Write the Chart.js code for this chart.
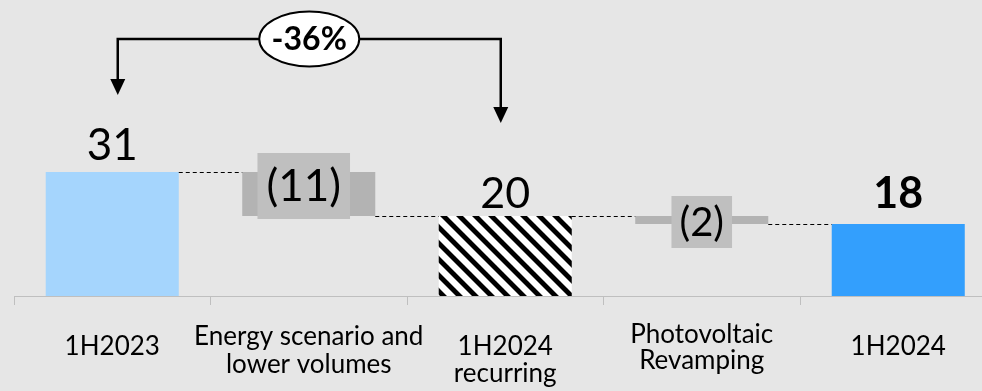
<!DOCTYPE html>
<html>
<head>
<meta charset="utf-8">
<script src="https://cdn.jsdelivr.net/npm/chart.js@4.4.1/dist/chart.umd.min.js"></script>
<style>
  html, body { margin: 0; padding: 0; background: #e6e6e6; overflow: hidden; }
  #wrap { width: 1000px; height: 391px; }
</style>
</head>
<body>
<div id="wrap"><canvas id="c" width="1000" height="391"></canvas></div>
<script>
// ---- data ----
const categories = [
  ['1H2023'],
  ['Energy scenario and', 'lower volumes'],
  ['1H2024', 'recurring'],
  ['Photovoltaic', 'Revamping'],
  ['1H2024']
];
const values = [31, -11, 20, -2, 18];
const isTotal = [true, false, true, false, true];
const valueLabels = ['31', '(11)', '20', '(2)', '18'];
const changeLabel = '-36%';
const changeFrom = 0;
const changeTo = 2;

// ---- styles ----
const FONT = 'Lato, "Open Sans", sans-serif';
const AXIS_COLOR = '#bfbfbf';
const GREY = '#b3b3b3';
const BOX_GREY = '#bfbfbf';

const valueStyle = [
  { size: 44, bold: false, gap: 12 },
  { size: 44, bold: false, box: true, padX: 9, top: 19, h: 66, dx: -5 },
  { size: 43, bold: false, gap: 8 },
  { size: 40, bold: false, box: true, padX: 8, top: 20, h: 52, dx: 0 },
  { size: 43, bold: true, gap: 16 }
];
const catStyle = [
  { first: 59, step: 28 },
  { first: 49, step: 28 },
  { first: 59, step: 27 },
  { first: 47, step: 26 },
  { first: 59, step: 28 }
];
const bracket = { y: 39, leftDx: 5.5, rightDx: -4.5, leftGap: 77, rightGap: 93,
                  headW: 15, headH: 16, rx: 50, ry: 27.5, size: 32 };

// floating ranges for the waterfall
const ranges = [];
const levels = [];
let level = 0;
values.forEach((v, i) => {
  if (isTotal[i]) { ranges.push([0, v]); level = v; }
  else { ranges.push([Math.min(level, level + v), Math.max(level, level + v)]); level += v; }
  levels.push(level);
});

// diagonal hatch fill
function makeHatch() {
  const t = document.createElement('canvas');
  t.width = 16; t.height = 16;
  const g = t.getContext('2d');
  g.fillStyle = '#ffffff';
  g.fillRect(0, 0, 16, 16);
  g.fillStyle = '#000000';
  g.beginPath();
  g.moveTo(0, 0); g.lineTo(7, 0); g.lineTo(16, 9); g.lineTo(16, 16); g.closePath();
  g.moveTo(0, 9); g.lineTo(7, 16); g.lineTo(0, 16); g.closePath();
  g.fill();
  return document.getElementById('c').getContext('2d').createPattern(t, 'repeat');
}
const hatch = makeHatch();
const barColors = ['#a5d5fd', GREY, hatch, GREY, '#339ffd'];

const overlay = {
  id: 'waterfallOverlay',
  afterDatasetsDraw(chart) {
    const ctx = chart.ctx;
    const xs = chart.scales.x;
    const ys = chart.scales.y;
    const bars = chart.getDatasetMeta(0).data;

    // dashed connectors between consecutive bars
    ctx.save();
    ctx.strokeStyle = '#000';
    ctx.lineWidth = 1;
    ctx.setLineDash([4, 3]);
    for (let i = 0; i < bars.length - 1; i++) {
      const y = Math.round(ys.getPixelForValue(levels[i])) + 0.5;
      ctx.beginPath();
      ctx.moveTo(bars[i].x + bars[i].width / 2, y);
      ctx.lineTo(bars[i + 1].x - bars[i + 1].width / 2, y);
      ctx.stroke();
    }
    ctx.restore();

    // value labels
    ctx.save();
    ctx.textAlign = 'center';
    values.forEach((v, i) => {
      const s = valueStyle[i];
      const b = bars[i];
      const top = ys.getPixelForValue(ranges[i][1]);
      ctx.font = (s.bold ? 'bold ' : '') + s.size + 'px ' + FONT;
      if (s.box) {
        const w = ctx.measureText(valueLabels[i]).width + 2 * s.padX;
        const cx = b.x + s.dx;
        const y0 = top - s.top;
        ctx.fillStyle = BOX_GREY;
        ctx.fillRect(cx - w / 2, y0, w, s.h);
        ctx.fillStyle = '#000';
        ctx.textBaseline = 'middle';
        ctx.fillText(valueLabels[i], cx, y0 + s.h / 2 + 1);
      } else {
        ctx.fillStyle = '#000';
        ctx.textBaseline = 'alphabetic';
        ctx.fillText(valueLabels[i], b.x, top - s.gap);
      }
    });
    ctx.restore();

    // category labels
    ctx.save();
    ctx.fillStyle = '#000';
    ctx.textAlign = 'center';
    ctx.textBaseline = 'alphabetic';
    ctx.font = '26px ' + FONT;
    const axisY = chart.chartArea.bottom;
    categories.forEach((lines, i) => {
      const x = xs.getPixelForValue(i);
      lines.forEach((line, j) => {
        ctx.fillText(line, x, axisY + catStyle[i].first + j * catStyle[i].step);
      });
    });
    ctx.restore();

    // change bracket with arrows
    const lx = bars[changeFrom].x + bracket.leftDx;
    const rx = bars[changeTo].x + bracket.rightDx;
    const lTip = ys.getPixelForValue(ranges[changeFrom][1]) - bracket.leftGap;
    const rTip = ys.getPixelForValue(ranges[changeTo][1]) - bracket.rightGap;
    ctx.save();
    ctx.strokeStyle = '#000';
    ctx.fillStyle = '#000';
    ctx.lineWidth = 2.5;
    ctx.lineJoin = 'miter';
    ctx.beginPath();
    ctx.moveTo(lx, lTip - bracket.headH);
    ctx.lineTo(lx, bracket.y);
    ctx.lineTo(rx, bracket.y);
    ctx.lineTo(rx, rTip - bracket.headH);
    ctx.stroke();
    [[lx, lTip], [rx, rTip]].forEach(([x, t]) => {
      ctx.beginPath();
      ctx.moveTo(x - bracket.headW / 2, t - bracket.headH);
      ctx.lineTo(x + bracket.headW / 2, t - bracket.headH);
      ctx.lineTo(x, t);
      ctx.closePath();
      ctx.fill();
    });
    const ex = (lx + rx) / 2;
    ctx.beginPath();
    ctx.ellipse(ex, bracket.y, bracket.rx, bracket.ry, 0, 0, Math.PI * 2);
    ctx.fillStyle = '#fff';
    ctx.fill();
    ctx.lineWidth = 2;
    ctx.stroke();
    ctx.fillStyle = '#000';
    ctx.font = 'bold ' + bracket.size + 'px ' + FONT;
    ctx.textAlign = 'center';
    ctx.textBaseline = 'middle';
    ctx.fillText(changeLabel, ex, bracket.y + 1);
    ctx.restore();
  }
};

new Chart(document.getElementById('c'), {
  type: 'bar',
  data: {
    labels: categories,
    datasets: [{
      data: ranges,
      backgroundColor: barColors,
      borderWidth: 0,
      categoryPercentage: 1,
      barPercentage: 0.677
    }]
  },
  options: {
    responsive: false,
    animation: false,
    devicePixelRatio: 1,
    layout: { padding: { left: 14, right: 3.5, top: 16, bottom: 0 } },
    plugins: { legend: { display: false }, tooltip: { enabled: false } },
    scales: {
      x: {
        type: 'category',
        offset: true,
        grid: { display: true, offset: true, drawOnChartArea: false, drawTicks: true,
                tickLength: 9, color: AXIS_COLOR, lineWidth: 1 },
        border: { display: true, color: AXIS_COLOR, width: 1 },
        ticks: { display: false },
        afterFit(scale) { scale.height = 95; }
      },
      y: {
        display: false,
        min: 0,
        max: 70
      }
    }
  },
  plugins: [overlay]
});
</script>
</body>
</html>
